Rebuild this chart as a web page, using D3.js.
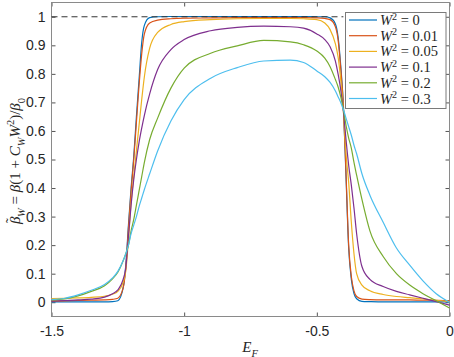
<!DOCTYPE html>
<html>
<head>
<meta charset="utf-8">
<script src="https://cdnjs.cloudflare.com/ajax/libs/d3/7.8.5/d3.min.js"></script>
<style>
  body { margin: 0; background: #fff; }
  svg { display: block; }
  .tick text { fill: #262626; font-family: 'Liberation Sans', Arial, sans-serif; font-size: 14px; }
  .tick line { stroke: #555; }
</style>
</head>
<body>
<svg id="chart"></svg>
<script>
// Fermi energy grid (shared by all curves)
const ef = [-1.5, -1.45, -1.4, -1.35, -1.3, -1.27, -1.25, -1.23, -1.22, -1.21,
            -1.2, -1.19, -1.18, -1.17, -1.16, -1.15, -1.13, -1.1, -1.05, -1.0,
            -0.9, -0.8, -0.7, -0.6, -0.55, -0.5, -0.47, -0.45, -0.43, -0.42,
            -0.41, -0.4, -0.39, -0.38, -0.37, -0.36, -0.35, -0.33, -0.3, -0.25,
            -0.2, -0.15, -0.1, -0.05, 0];

const w0 = [0.001, 0.001, 0.001, 0.001, 0.001, 0.002, 0.005, 0.05, 0.13, 0.27,
            0.40, 0.51, 0.65, 0.78, 0.91, 0.97, 0.997, 1.0, 1.001, 1.001,
            1.001, 1.001, 1.001, 1.001, 1.001, 1.0, 1.0, 0.996, 0.975, 0.93,
            0.83, 0.69, 0.44, 0.19, 0.08, 0.03, 0.012, 0.003, 0.002, 0.001,
            0.001, 0.001, 0.001, 0.001, 0.001];

const w001 = [0.004, 0.005, 0.006, 0.007, 0.008, 0.01, 0.014, 0.05, 0.12, 0.26,
              0.39, 0.50, 0.63, 0.76, 0.87, 0.94, 0.978, 0.988, 0.993, 0.995,
              0.996, 0.997, 0.997, 0.997, 0.997, 0.996, 0.994, 0.99, 0.965, 0.92,
              0.82, 0.69, 0.45, 0.20, 0.09, 0.04, 0.02, 0.011, 0.009, 0.008,
              0.008, 0.008, 0.007, 0.007, 0.006];

const w005 = [0.013, 0.014, 0.015, 0.017, 0.021, 0.028, 0.038, 0.07, 0.11, 0.22,
              0.35, 0.44, 0.53, 0.62, 0.71, 0.79, 0.89, 0.945, 0.973, 0.983,
              0.99, 0.993, 0.994, 0.994, 0.993, 0.99, 0.978, 0.955, 0.905, 0.86,
              0.78, 0.67, 0.52, 0.42, 0.28, 0.17, 0.10, 0.06, 0.04, 0.027,
              0.02, 0.016, 0.012, 0.007, 0.002];

const w01 = [0.004, 0.006, 0.008, 0.011, 0.018, 0.03, 0.043, 0.08, 0.12, 0.23,
             0.34, 0.43, 0.50, 0.56, 0.61, 0.655, 0.73, 0.815, 0.885, 0.92,
             0.951, 0.963, 0.967, 0.965, 0.96, 0.94, 0.92, 0.895, 0.845, 0.80,
             0.745, 0.67, 0.57, 0.48, 0.41, 0.33, 0.24, 0.125, 0.08, 0.055,
             0.038, 0.026, 0.014, 0.002, -0.01];

const w02 = [0.008, 0.012, 0.022, 0.038, 0.058, 0.082, 0.105, 0.145, 0.17, 0.2,
             0.25, 0.29, 0.34, 0.39, 0.44, 0.49, 0.57, 0.645, 0.75, 0.82,
             0.872, 0.898, 0.917, 0.912, 0.902, 0.88, 0.855, 0.825, 0.78, 0.755,
             0.72, 0.675, 0.62, 0.575, 0.54, 0.49, 0.445, 0.36, 0.25, 0.16,
             0.10, 0.06, 0.03, 0.005, -0.02];

const w03 = [0.009, 0.014, 0.026, 0.042, 0.062, 0.085, 0.108, 0.145, 0.17, 0.2,
             0.24, 0.27, 0.30, 0.335, 0.365, 0.395, 0.45, 0.53, 0.635, 0.71,
             0.785, 0.822, 0.845, 0.848, 0.84, 0.81, 0.79, 0.77, 0.74, 0.72,
             0.70, 0.675, 0.645, 0.615, 0.585, 0.55, 0.52, 0.45, 0.375, 0.28,
             0.19, 0.13, 0.075, 0.03, 0.0];

const seriesValues = [w0, w001, w005, w01, w02, w03];
const w2Labels = ['0', '0.01', '0.05', '0.1', '0.2', '0.3'];
const colors = ['#0072BD', '#D95319', '#EDB120', '#7E2F8E', '#77AC30', '#4DBEEE'];

const xTicks = [-1.5, -1, -0.5, 0];
const yTicks = [0, 0.1, 0.2, 0.3, 0.4, 0.5, 0.6, 0.7, 0.8, 0.9, 1];
const refLine = { from: -1.5, to: -0.4, value: 1 };

let width = 454,
    height = 357;

let svg = d3.select('#chart')
            .attr('width', width)
            .attr('height', height);

let x = d3.scaleLinear()
          .domain([-1.5, 0])
          .range([51.5, 449.5]);

let y = d3.scaleLinear()
          .domain([-0.05, 1.05])
          .range([316.5, 2.5]);

// axes: ticks point inward, MATLAB style box
svg.append('g')
   .attr('transform', `translate(0,${y.range()[0]})`)
   .call(d3.axisBottom(x).tickValues(xTicks).tickSize(-4).tickPadding(10)
           .tickFormat(d3.format('')))
   .select('.domain').remove();

svg.append('g')
   .attr('transform', `translate(${x.range()[0]},0)`)
   .call(d3.axisLeft(y).tickValues(yTicks).tickSize(-4).tickPadding(6)
           .tickFormat(d3.format('')))
   .select('.domain').remove();

svg.append('g')
   .attr('transform', `translate(0,${y.range()[1]})`)
   .call(d3.axisTop(x).tickValues(xTicks).tickSize(-4).tickFormat(''))
   .select('.domain').remove();

svg.append('g')
   .attr('transform', `translate(${x.range()[1]},0)`)
   .call(d3.axisRight(y).tickValues(yTicks).tickSize(-4).tickFormat(''))
   .select('.domain').remove();

svg.selectAll('.tick text').text(function () {
  return d3.select(this).text().replace('−', '-');
});

svg.append('rect')
   .attr('x', x.range()[0])
   .attr('y', y.range()[1])
   .attr('width', x.range()[1] - x.range()[0])
   .attr('height', y.range()[0] - y.range()[1])
   .attr('fill', 'none')
   .attr('stroke', '#8a8a8a');

let line = d3.line()
             .x((d, i) => x(ef[i]))
             .y(d => y(d))
             .curve(d3.curveMonotoneX);

svg.append('g')
   .selectAll('path')
   .data(seriesValues)
   .enter()
   .append('path')
   .attr('d', line)
   .attr('fill', 'none')
   .attr('stroke', (d, i) => colors[i])
   .attr('stroke-width', 1.2);

svg.append('line')
   .attr('x1', x(refLine.from))
   .attr('x2', x(refLine.to))
   .attr('y1', y(refLine.value))
   .attr('y2', y(refLine.value))
   .attr('stroke', '#333')
   .attr('stroke-width', 1)
   .attr('stroke-dasharray', '6,4');

// rich text helper for the LaTeX-ish labels (sub/sup/italic, optional nudges)
function richText(sel, parts, size) {
  let shift = 0;
  parts.forEach(p => {
    let target = p.sub ? size * 0.3 : p.sup ? -size * 0.38 : (p.raise ? -size * p.raise : 0);
    let ts = sel.append('tspan')
       .attr('dy', target - shift)
       .attr('font-style', p.i ? 'italic' : 'normal')
       .attr('font-size', (p.sub || p.sup) ? size * 0.7 : size)
       .text(p.t);
    if (p.dx) ts.attr('dx', p.dx * size);
    shift = target;
  });
}

let serif = "'Liberation Serif', 'DejaVu Serif', serif";

let xl = svg.append('text')
            .attr('x', 250)
            .attr('y', 352)
            .attr('text-anchor', 'middle')
            .attr('font-family', serif)
            .attr('fill', '#262626');
richText(xl, [{ t: 'E', i: true }, { t: 'F', i: true, sub: true }], 15);

let yl = svg.append('text')
            .attr('transform', 'rotate(-90)')
            .attr('x', -161)
            .attr('y', 20)
            .attr('text-anchor', 'middle')
            .attr('font-family', serif)
            .attr('fill', '#262626');
richText(yl, [
  { t: 'β', i: true }, { t: '\u02DC', raise: 0.28, dx: -0.42 },
  { t: 'W', i: true, sub: true, dx: 0.06 }, { t: ' = ' },
  { t: 'β', i: true }, { t: '(1 + ' }, { t: 'C', i: true }, { t: 'W', i: true, sub: true },
  { t: 'W', i: true }, { t: '2', sup: true }, { t: ')/' },
  { t: 'β', i: true }, { t: '0', sub: true }
], 15);

// legend
let legend = svg.append('g').attr('transform', 'translate(345.5,12.5)');

legend.append('rect')
      .attr('width', 100.5)
      .attr('height', 96)
      .attr('fill', '#fff')
      .attr('stroke', '#7a7a7a');

let entry = legend.selectAll('g.entry')
                  .data(w2Labels)
                  .enter()
                  .append('g')
                  .attr('class', 'entry')
                  .attr('transform', (d, i) => `translate(0,${7.5 + i * 15.7})`);

entry.append('line')
     .attr('x1', 3.5)
     .attr('x2', 31.5)
     .attr('stroke', (d, i) => colors[i])
     .attr('stroke-width', 1.2);

entry.each(function (d) {
  let t = d3.select(this).append('text')
            .attr('x', 34.5)
            .attr('y', 5)
            .attr('font-family', serif)
            .attr('fill', '#262626');
  richText(t, [{ t: 'W', i: true }, { t: '2', sup: true }, { t: ' = ' + d }], 14.5);
});
</script>
</body>
</html>
